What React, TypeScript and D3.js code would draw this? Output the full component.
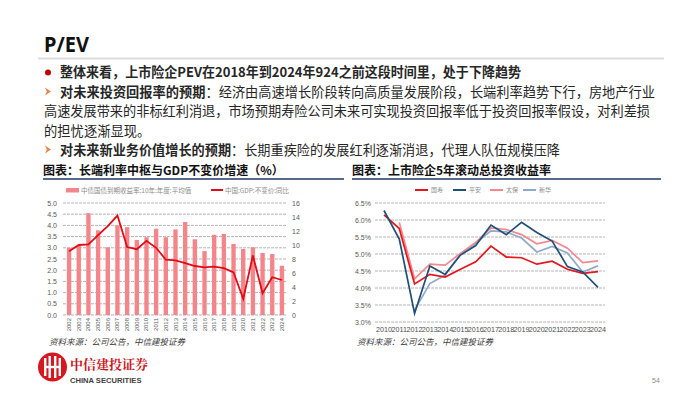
import React from 'react';
import * as d3 from 'd3';

// left chart: 10y CGB yield (bars, left axis) and real GDP growth (line, right axis)
const years = ['2002', '2003', '2004', '2005', '2006', '2007', '2008', '2009', '2010', '2011', '2012', '2013', '2014', '2015', '2016', '2017', '2018', '2019', '2020', '2021', '2022', '2023', '2024'];
const bondYield = [3.0, 3.1, 4.55, 3.78, 3.02, 4.0, 3.92, 3.35, 3.47, 3.85, 3.47, 3.82, 4.15, 3.38, 2.85, 3.58, 3.62, 3.17, 2.95, 3.02, 2.77, 2.72, 2.2];
const gdpGrowth = [9.1, 10.0, 10.1, 11.4, 12.7, 14.2, 9.7, 9.4, 10.6, 9.6, 7.9, 7.8, 7.4, 7.0, 6.8, 6.9, 6.7, 6.1, 2.3, 8.5, 3.1, 5.4, 5.0];
const leftTicks = [0, 0.5, 1, 1.5, 2, 2.5, 3, 3.5, 4, 4.5, 5];
const rightTicks = [0, 2, 4, 6, 8, 10, 12, 14, 16];
const leftLegend = ['中债国债到期收益率:10年:年度:平均值', '中国:GDP:不变价:同比'];

// right chart: 5y rolling total investment yield
const insYears = ['2010', '2011', '2012', '2013', '2014', '2015', '2016', '2017', '2018', '2019', '2020', '2021', '2022', '2023', '2024'];
const chinaLife = [6.15, 5.75, 4.12, 4.4, 4.32, 4.55, 4.77, 5.23, 4.91, 4.89, 4.7, 4.79, 4.55, 4.43, 4.48];
const pingAn = [6.28, 5.44, 3.25, 4.65, 4.4, 4.97, 5.25, 5.85, 5.57, 5.93, 5.63, 5.38, 4.63, 4.47, 4.02];
const cpic = [null, 5.93, 4.27, 4.7, 4.67, 5.02, 5.34, 5.77, 5.72, 5.57, 5.3, 5.4, 5.17, 4.75, 4.8];
const nci = [null, null, 3.35, 4.13, 4.38, 5.0, 5.32, 5.68, 5.65, 5.47, 5.06, 5.22, 5.03, 4.47, 4.65];
const pctTicks = [3.0, 3.5, 4.0, 4.5, 5.0, 5.5, 6.0, 6.5];
const insNames = ['国寿', '平安', '太保', '新华'];
const insColors = ['#e3161d', '#1f4e79', '#f4888d', '#8eaacb'];

const cjk = '"Noto Sans CJK SC", "Noto Sans", sans-serif';
const txt = '#262626';

function LeftChart() {
  const x = d3.scaleBand().domain(years).range([64, 287]).paddingInner(0.55).paddingOuter(0.3);
  const yL = d3.scaleLinear().domain([0, 5]).range([315, 203]);
  const yR = d3.scaleLinear().domain([0, 16]).range([315, 203]);
  const line = d3.line<number>()
    .x((d, i) => (x(years[i]) as number) + x.bandwidth() / 2)
    .y(d => yR(d));
  return (
    <g fontFamily={cjk}>
      {leftTicks.map(t => (
        <g key={t}>
          <line x1={63} x2={287} y1={yL(t)} y2={yL(t)} stroke="#b3b3b3" strokeDasharray="3,1" />
          <text x={57} y={yL(t) + 2.5} fontSize={7} fill="#595959" textAnchor="end" fontFamily="Arial, Liberation Sans">{t.toFixed(1)}</text>
        </g>
      ))}
      {rightTicks.map(t => (
        <text key={t} x={292} y={yR(t) + 2.5} fontSize={7} fill="#595959" fontFamily="Arial, Liberation Sans">{t}</text>
      ))}
      {bondYield.map((v, i) => (
        <rect key={years[i]} x={x(years[i])} y={yL(v)} width={x.bandwidth()} height={yL(0) - yL(v)} fill="#f4858a" />
      ))}
      <path d={line(gdpGrowth) || ''} fill="none" stroke="#e00b14" strokeWidth={1.8} />
      {years.map(y => {
        const cx = (x(y) as number) + x.bandwidth() / 2;
        return (
          <text key={y} transform={`translate(${cx + 2},318) rotate(-90)`} fontSize={6} fill="#595959" textAnchor="end" fontFamily="Arial, Liberation Sans">{y}</text>
        );
      })}
      <rect x={66} y={188} width={13} height={4.5} fill="#f4858a" />
      <text x={81} y={192.5} fontSize={6.5} fill="#8c8c8c">{leftLegend[0]}</text>
      <line x1={211} x2={223} y1={190} y2={190} stroke="#e00b14" strokeWidth={2} />
      <text x={225} y={192.5} fontSize={6.5} fill="#8c8c8c">{leftLegend[1]}</text>
    </g>
  );
}

function RightChart() {
  const x = d3.scalePoint().domain(insYears).range([384, 598]);
  const y = d3.scaleLinear().domain([3.0, 6.5]).range([322, 203]);
  const line = d3.line<number | null>()
    .defined(d => d != null)
    .x((d, i) => x(insYears[i]) as number)
    .y(d => y(d as number));
  const series = [chinaLife, pingAn, cpic, nci];
  const legendX = [415, 453, 490, 523];
  return (
    <g fontFamily={cjk}>
      {pctTicks.map(t => (
        <g key={t}>
          <line x1={375} x2={605} y1={y(t)} y2={y(t)} stroke="#b3b3b3" strokeDasharray="3,1" />
          <text x={371} y={y(t) + 2.5} fontSize={7} fill="#595959" textAnchor="end" fontFamily="Arial, Liberation Sans">{t.toFixed(1) + '%'}</text>
        </g>
      ))}
      {insYears.map(yr => (
        <text key={yr} x={x(yr)} y={331.5} fontSize={7.2} fill="#4d4d4d" textAnchor="middle" fontFamily="Arial, Liberation Sans">{yr}</text>
      ))}
      {[3, 2, 0, 1].map(k => (
        <path key={k} d={line(series[k]) || ''} fill="none" stroke={insColors[k]} strokeWidth={1.7} />
      ))}
      {insNames.map((n, k) => (
        <g key={n}>
          <line x1={legendX[k]} x2={legendX[k] + 13} y1={190} y2={190} stroke={insColors[k]} strokeWidth={2} />
          <text x={legendX[k] + 16} y={192} fontSize={6} fill="#8c8c8c">{n}</text>
        </g>
      ))}
    </g>
  );
}

function Logo() {
  return (
    <g>
      <circle cx={52.5} cy={367} r={14.5} fill="#d7171f" />
      <rect x={44} y={358} width={2.4} height={18} fill="#fff" />
      <rect x={48.5} y={356} width={2.4} height={22} fill="#fff" />
      <rect x={54} y={356} width={2.4} height={22} fill="#fff" />
      <rect x={58.6} y={358} width={2.4} height={18} fill="#fff" />
      <rect x={44} y={365.8} width={17} height={2.4} fill="#fff" />
      <text x={70} y={369} fontSize={13} fontWeight={700} fill="#c8161d" fontFamily='"Noto Serif CJK SC", "Noto Sans CJK SC", serif'>中信建投证券</text>
      <text x={70} y={382.5} fontSize={7.6} fontWeight={700} fill="#404040" fontFamily="Arial, Liberation Sans">CHINA SECURITIES</text>
    </g>
  );
}

function Arrow({ x, y }: { x: number; y: number }) {
  return <path d={`M${x},${y - 4} L${x + 6},${y} L${x},${y + 4} L${x + 1.8},${y} Z`} fill="#e8864a" />;
}

export default function App() {
  const fs = 13.3;
  return (
    <div style={{ position: 'absolute', left: 0, top: 0 }}>
      <svg width={700} height={394} style={{ display: 'block', background: '#fff' }}>
        <text x={44} y={52} fontSize={22} fontWeight={700} fill="#111" fontFamily='"Noto Sans", sans-serif' textLength={45} lengthAdjust="spacingAndGlyphs">P/EV</text>
        <line x1={38} x2={664} y1={58.5} y2={58.5} stroke="#dcdcdc" strokeWidth={2} />
        <g fontFamily={cjk} fontSize={fs} fill={txt}>
          <circle cx={48} cy={72.5} r={3} fill="#c00000" />
          <text x={60} y={77} textLength={461} lengthAdjust="spacingAndGlyphs"><tspan fontWeight={700}>整体来看，上市险企PEV在2018年到2024年924之前这段时间里，处于下降趋势</tspan></text>
          <Arrow x={45} y={91.5} />
          <text x={60} y={96.5} textLength={595} lengthAdjust="spacingAndGlyphs"><tspan fontWeight={700}>对未来投资回报率的预期</tspan><tspan>：经济由高速增长阶段转向高质量发展阶段，长端利率趋势下行，房地产行业</tspan></text>
          <text x={44} y={116} textLength={606} lengthAdjust="spacingAndGlyphs">高速发展带来的非标红利消退，市场预期寿险公司未来可实现投资回报率低于投资回报率假设，对利差损</text>
          <text x={44} y={135.5}>的担忧逐渐显现。</text>
          <Arrow x={45} y={149.5} />
          <text x={60} y={154.5} textLength={500} lengthAdjust="spacingAndGlyphs"><tspan fontWeight={700}>对未来新业务价值增长的预期</tspan><tspan>：长期重疾险的发展红利逐渐消退，代理人队伍规模压降</tspan></text>
        </g>
        <g fontFamily={cjk} fontWeight={700} fontSize={12} fill="#111">
          <text x={43} y={175}>图表：长端利率中枢与GDP不变价增速（%）</text>
          <text x={352} y={175}>图表：上市险企5年滚动总投资收益率</text>
        </g>
        <line x1={43} x2={344} y1={179} y2={179} stroke="#1f3864" strokeWidth={1.5} />
        <line x1={352} x2={661} y1={179} y2={179} stroke="#1f3864" strokeWidth={1.5} />
        <LeftChart />
        <RightChart />
        <g fontFamily={cjk} fontSize={8.5} fontStyle="italic" fill="#404040">
          <text x={49} y={345}>资料来源：公司公告，中信建投证券</text>
          <text x={357} y={345}>资料来源：公司公告，中信建投证券</text>
        </g>
        <Logo />
        <text x={652} y={383} fontSize={7} fill="#8c8c8c" fontFamily="Arial, Liberation Sans">54</text>
      </svg>
    </div>
  );
}
